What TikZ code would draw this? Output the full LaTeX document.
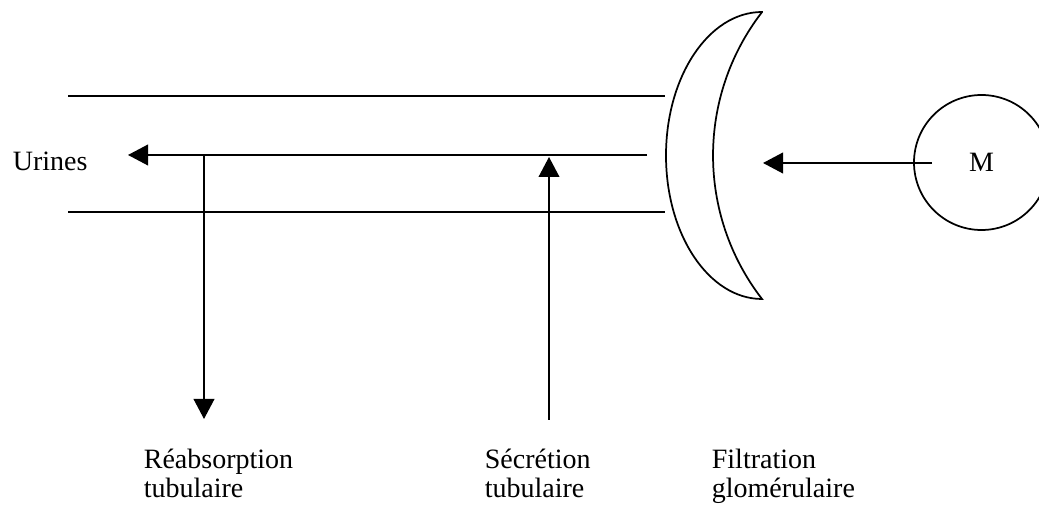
\documentclass[tikz,border=0pt]{standalone}
\usepackage{fontspec}
\setmainfont{Liberation Serif}
\usepackage{tikz}
\usetikzlibrary{arrows.meta}

\begin{document}
\begin{tikzpicture}[x=0.75pt, y=0.75pt, line width=1.3pt,
		fleche/.style={-{Triangle[length=15pt,width=15.5pt]}},
		texte/.style={anchor=base west, inner sep=0pt, align=left, font=\fontsize{21}{21.75}\selectfont}]
				\useasboundingbox (0, 0) rectangle (1039, 506);
				% tubule
				\coordinate (hautg) at (68, 410);
				\coordinate (hautd) at (665, 410);
				\coordinate (basg) at (68, 294);
				\coordinate (basd) at (665, 294);
				\draw (hautg) -- (hautd);
				\draw (basg) -- (basd);
				\coordinate (debut) at (647, 351);
				\coordinate (sortie) at (128, 351);
				\draw[fleche] (debut) -- (sortie);
				% capsule
				\draw (762, 494) arc[start angle=90, end angle=270, x radius=96, y radius=143.5]
					arc[start angle=217.7, end angle=142.3, radius=234.6] -- cycle;
				% M
				\node[circle, draw, minimum size=101.25pt, inner sep=0pt, font=\fontsize{21}{21.75}\selectfont] (m) at (981.5, 343.5) {M};
				\coordinate (mdep) at (932, 343);
				\coordinate (mfin) at (763, 343);
				\draw[fleche] (mdep) -- (mfin);
				% reabsorption et secretion
				\coordinate (reab) at (204, 351);
				\coordinate (reabfin) at (204, 87);
				\draw[fleche] (reab) -- (reabfin);
				\coordinate (secdep) at (549, 86);
				\coordinate (sec) at (549, 349);
				\draw[fleche] (secdep) -- (sec);
				% textes
				\node[texte] (urines) at (12, 335) {Urines};
				\node[texte] (reabtxt) at (143, 8) {Réabsorption\\tubulaire};
				\node[texte] (sectxt) at (484, 8) {Sécrétion\\tubulaire};
				\node[texte] (filtxt) at (711, 8) {Filtration\\glomérulaire};
			\end{tikzpicture}
\end{document}
